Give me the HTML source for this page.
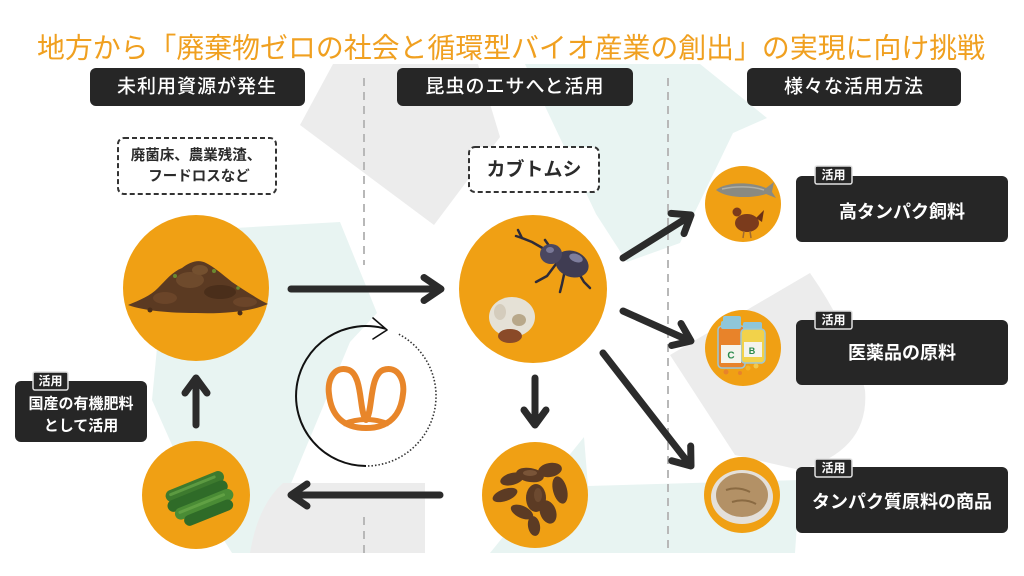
<!DOCTYPE html>
<html><head><meta charset="utf-8"><style>
html,body{margin:0;padding:0;background:#fff;width:1024px;height:576px;overflow:hidden}
svg{display:block}
text{font-family:"Liberation Sans","Noto Sans CJK JP",sans-serif}
</style></head><body>
<svg width="1024" height="576" viewBox="0 0 1024 576" xmlns="http://www.w3.org/2000/svg">
<!-- background recycle shapes -->
<polygon points="300,125 333,64 478,64 500,137 434,225" fill="#ececec"/>
<polygon points="525,64 700,64 767,118 733,133 680,243 627,262 596,214" fill="#e8f4f2"/>
<polygon points="200,230 340,222 377,313 350,342 262,553 232,553 192,490 152,400 165,265" fill="#e8f4f2"/>
<path d="M283,483 L425,483 L425,553 L250,553 Q258,505 283,483Z" fill="#ececec"/>
<polygon points="490,553 584,437 588,486 800,480 795,553" fill="#e8f4f2"/>
<path d="M670,355 L810,273 Q850,330 865,390 Q870,450 800,470 L735,455 Z" fill="#ececec"/>

<!-- dashed dividers -->
<line x1="364" y1="78" x2="364" y2="265" stroke="#b8b8b8" stroke-width="2" stroke-dasharray="8,6"/>
<line x1="364" y1="517" x2="364" y2="553" stroke="#b8b8b8" stroke-width="2" stroke-dasharray="8,6"/>
<line x1="668" y1="78" x2="668" y2="553" stroke="#b8b8b8" stroke-width="2" stroke-dasharray="8,6"/>

<!-- title -->
<text x="511" y="48" text-anchor="middle" dominant-baseline="central" font-size="28" fill="#f0a020" textLength="948" lengthAdjust="spacingAndGlyphs">地方から「廃棄物ゼロの社会と循環型バイオ産業の創出」の実現に向け挑戦</text>

<!-- headers -->
<rect x="90" y="68" width="215" height="38" rx="6" fill="#262626"/>
<text x="197" y="87" text-anchor="middle" dominant-baseline="central" font-size="19" font-weight="500" fill="#fff" letter-spacing="1">未利用資源が発生</text>
<rect x="397" y="68" width="236" height="38" rx="6" fill="#262626"/>
<text x="515" y="87" text-anchor="middle" dominant-baseline="central" font-size="19" font-weight="500" fill="#fff" letter-spacing="1">昆虫のエサへと活用</text>
<rect x="747" y="68" width="214" height="38" rx="6" fill="#262626"/>
<text x="854" y="87" text-anchor="middle" dominant-baseline="central" font-size="19" font-weight="500" fill="#fff" letter-spacing="1">様々な活用方法</text>

<!-- dashed label boxes -->
<rect x="118" y="138" width="158" height="56" rx="6" fill="#fff" stroke="#333" stroke-width="2" stroke-dasharray="5,3"/>
<text x="196" y="156" text-anchor="middle" dominant-baseline="central" font-size="14.5" font-weight="700" fill="#2b2b2b">廃菌床、農業残渣、</text>
<text x="199" y="177" text-anchor="middle" dominant-baseline="central" font-size="14.5" font-weight="700" fill="#2b2b2b">フードロスなど</text>
<rect x="469" y="147" width="130" height="45" rx="6" fill="#fff" stroke="#333" stroke-width="2" stroke-dasharray="5,3"/>
<text x="534" y="170" text-anchor="middle" dominant-baseline="central" font-size="19" font-weight="700" fill="#2b2b2b">カブトムシ</text>

<!-- circle 1: soil -->
<circle cx="196" cy="288" r="73" fill="#f0a014"/>
<path d="M128 305 C140 300 150 296 158 288 C166 280 172 272 182 268 C190 262 198 259 206 263 C214 267 222 274 232 282 C244 290 256 298 268 304 C250 312 220 314 196 313 C170 313 145 311 128 305Z" fill="#5b3a22"/>
<ellipse cx="190" cy="280" rx="14" ry="8" fill="#6e4a2c"/>
<ellipse cx="220" cy="292" rx="16" ry="7" fill="#4a2e1a"/>
<ellipse cx="165" cy="298" rx="12" ry="6" fill="#6b4529"/>
<ellipse cx="245" cy="302" rx="12" ry="5" fill="#6b4529"/>
<ellipse cx="200" cy="270" rx="8" ry="5" fill="#74502f"/>
<circle cx="175" cy="276" r="2" fill="#6a8a30"/><circle cx="214" cy="271" r="2" fill="#6a8a30"/><circle cx="238" cy="288" r="1.8" fill="#6a8a30"/>
<circle cx="150" cy="310" r="2.5" fill="#4a2e1a"/><circle cx="240" cy="313" r="2.5" fill="#4a2e1a"/>

<!-- circle 2: beetle + grub -->
<circle cx="533" cy="289" r="74" fill="#f0a014"/>
<g stroke="#2e2b38" stroke-width="2.5" stroke-linecap="round" fill="none">
<path d="M546 250 L532 242 L522 238 L518 230"/>
<path d="M522 238 L516 236"/>
<path d="M556 264 L547 276 L536 282"/>
<path d="M565 270 L562 284 L560 292"/>
<path d="M578 272 L584 282 L590 288"/>
<path d="M552 250 L545 240"/>
</g>
<ellipse cx="572" cy="264" rx="17" ry="13" fill="#3f3c52" transform="rotate(20 572 264)"/>
<ellipse cx="551" cy="254" rx="11" ry="10" fill="#4a4760"/>
<ellipse cx="576" cy="258" rx="7" ry="4" fill="#8f8fb0" opacity="0.8" transform="rotate(20 576 258)"/>
<ellipse cx="550" cy="250" rx="4" ry="3" fill="#8f8fb0" opacity="0.7"/>
<ellipse cx="512" cy="317" rx="23" ry="20" fill="#e5e1d6"/>
<ellipse cx="519" cy="320" rx="7" ry="6" fill="#b8a88a"/>
<ellipse cx="500" cy="312" rx="6" ry="8" fill="#cfc7b5" opacity="0.8"/>
<ellipse cx="510" cy="336" rx="12" ry="7" fill="#8a4a28"/>

<!-- circle 3: frass -->
<circle cx="535" cy="495" r="53" fill="#f0a014"/>
<g fill="#5c3b24">
<ellipse cx="512" cy="479" rx="12" ry="6" transform="rotate(-15 512 479)"/>
<ellipse cx="505" cy="495" rx="13" ry="6" transform="rotate(-20 505 495)"/>
<ellipse cx="530" cy="475" rx="14" ry="7" transform="rotate(10 530 475)"/>
<ellipse cx="550" cy="470" rx="12" ry="7" transform="rotate(-10 550 470)"/>
<ellipse cx="560" cy="490" rx="7" ry="14" transform="rotate(-15 560 490)"/>
<ellipse cx="536" cy="498" rx="10" ry="14"/>
<ellipse cx="548" cy="512" rx="8" ry="12" transform="rotate(-20 548 512)"/>
<ellipse cx="522" cy="512" rx="12" ry="6" transform="rotate(25 522 512)"/>
<ellipse cx="534" cy="526" rx="6" ry="10" transform="rotate(-10 534 526)"/>
</g>
<ellipse cx="530" cy="473" rx="7" ry="3" fill="#7a5538"/>
<ellipse cx="538" cy="495" rx="4" ry="7" fill="#6d4a30"/>

<!-- circle 4: cucumbers -->
<circle cx="196" cy="495" r="54" fill="#f0a014"/>
<g transform="rotate(-22 198 497)">
<rect x="168" y="480" width="62" height="12" rx="6" fill="#3d7a2e"/>
<rect x="166" y="490" width="64" height="12" rx="6" fill="#2f6b28"/>
<rect x="170" y="500" width="62" height="12" rx="6" fill="#4a8c35"/>
<rect x="176" y="510" width="52" height="11" rx="5.5" fill="#2f6b28"/>
<rect x="172" y="483" width="50" height="3" rx="1.5" fill="#6aa84a" opacity="0.7"/>
<rect x="174" y="503" width="50" height="3" rx="1.5" fill="#6aa84a" opacity="0.7"/>
</g>

<!-- arrows -->
<g stroke="#2b2b2b" stroke-width="7" stroke-linecap="round" stroke-linejoin="round" fill="none">
<line x1="291" y1="289" x2="440" y2="289"/><polyline points="424,277.5 441,289 424,300.5"/>
<line x1="196" y1="425" x2="196" y2="379"/><polyline points="185,393 196,378 207,393"/>
<line x1="535" y1="378" x2="535" y2="424"/><polyline points="524,410 535,425 546,410"/>
<line x1="440" y1="495" x2="292" y2="495"/><polyline points="307,484 291,495 307,506"/>
<line x1="623" y1="258" x2="690" y2="216"/><polyline points="671,213.4 691,215 684,233.6"/>
<line x1="623" y1="311" x2="690" y2="341"/><polyline points="681,323.5 691,341 671.6,345.5"/>
<line x1="603" y1="353" x2="690" y2="465"/><polyline points="690.7,446 691,466 671.7,460.8"/>
</g>

<!-- cycle icon -->
<path d="M366 466 A70 70 0 1 1 385.3 328.7" fill="none" stroke="#111" stroke-width="2"/>
<polyline points="373,318 387,330 373,339" fill="none" stroke="#111" stroke-width="1.6" stroke-linecap="round" stroke-linejoin="round"/>
<path d="M398.9 334.2 A70 70 0 0 1 366 466" fill="none" stroke="#333" stroke-width="1.6" stroke-dasharray="1.5,2"/>
<path d="M366 420 C359 412 363 376 349 370 C334 365 327 380 329 394 C331 414 342 428 366 428 C390 428 401 414 403 394 C405 380 398 365 383 370 C369 376 373 412 366 420Z" fill="none" stroke="#e8862a" stroke-width="6" stroke-linejoin="round"/>
<path d="M343 424 Q366 415 389 424" fill="none" stroke="#e8862a" stroke-width="5"/>

<!-- left label -->
<rect x="15" y="381" width="132" height="61" rx="6" fill="#262626"/>
<text x="81" y="404" text-anchor="middle" dominant-baseline="central" font-size="15" font-weight="700" fill="#fff">国産の有機肥料</text>
<text x="81" y="426" text-anchor="middle" dominant-baseline="central" font-size="15" font-weight="700" fill="#fff">として活用</text>
<rect x="33" y="372" width="35" height="18" rx="2" fill="#262626" stroke="#e0e0e0" stroke-width="1.5"/>
<text x="50.5" y="381" text-anchor="middle" dominant-baseline="central" font-size="12" font-weight="700" fill="#fff">活用</text>

<!-- right circles -->
<circle cx="743" cy="204" r="38" fill="#f0a014"/>
<path d="M716 190 C725 182 750 181 766 188 L774 182 L772 192 L776 198 L766 194 C750 199 726 198 716 190Z" fill="#8a8a82"/>
<path d="M722 189 C735 186 752 186 764 190" stroke="#b0b0a8" stroke-width="1.5" fill="none"/>
<ellipse cx="747" cy="223" rx="12" ry="9" fill="#7b3b1c"/>
<circle cx="737" cy="212" r="4.5" fill="#7b3b1c"/>
<path d="M756 218 L764 210 L762 222Z" fill="#6a3015"/>
<path d="M744 231 L743 238 M750 231 L751 238" stroke="#a06a30" stroke-width="1.5"/>

<circle cx="743" cy="348" r="38" fill="#f0a014"/>
<rect x="723" y="316" width="18" height="8" rx="2" fill="#8fc6d8"/>
<rect x="718" y="326" width="27" height="42" rx="4" fill="#e8832a" stroke="#9cc8d6" stroke-width="1.5"/>
<rect x="721" y="321" width="20" height="8" rx="2" fill="#8fc6d8"/>
<rect x="743" y="322" width="19" height="8" rx="2" fill="#8fc6d8"/>
<rect x="741" y="329" width="24" height="34" rx="4" fill="#f2d24a" stroke="#9cc8d6" stroke-width="1.5"/>
<rect x="721" y="345" width="20" height="18" fill="#f4f4ec"/>
<rect x="744" y="342" width="18" height="15" fill="#f4f4ec"/>
<text x="731" y="356" text-anchor="middle" dominant-baseline="central" font-size="10" font-weight="700" fill="#2a8a4a">C</text>
<text x="752" y="351" text-anchor="middle" dominant-baseline="central" font-size="9" font-weight="700" fill="#2a8a4a">B</text>
<circle cx="748" cy="368" r="2.5" fill="#f2b32a"/><circle cx="756" cy="366" r="2.5" fill="#f2c84a"/><circle cx="726" cy="372" r="2.5" fill="#e8832a"/><circle cx="740" cy="373" r="2" fill="#e8832a"/>

<circle cx="742" cy="495" r="38" fill="#f0a014"/>
<ellipse cx="742" cy="497" rx="31" ry="27" fill="#e4e0da"/>
<ellipse cx="742" cy="495" rx="26" ry="22" fill="#b39166"/>
<path d="M726 490 Q738 486 750 492 M732 502 Q745 498 756 504" stroke="#8a6a42" stroke-width="2" fill="none"/>

<!-- right boxes -->
<rect x="796" y="176" width="212" height="66" rx="6" fill="#262626"/>
<text x="902" y="212" text-anchor="middle" dominant-baseline="central" font-size="18" font-weight="700" fill="#fff">高タンパク飼料</text>
<rect x="815" y="166" width="37" height="18" rx="2" fill="#262626" stroke="#e0e0e0" stroke-width="1.5"/>
<text x="833.5" y="175" text-anchor="middle" dominant-baseline="central" font-size="12" font-weight="700" fill="#fff">活用</text>

<rect x="796" y="320" width="212" height="65" rx="6" fill="#262626"/>
<text x="902" y="353" text-anchor="middle" dominant-baseline="central" font-size="18" font-weight="700" fill="#fff">医薬品の原料</text>
<rect x="815" y="311" width="37" height="18" rx="2" fill="#262626" stroke="#e0e0e0" stroke-width="1.5"/>
<text x="833.5" y="320" text-anchor="middle" dominant-baseline="central" font-size="12" font-weight="700" fill="#fff">活用</text>

<rect x="796" y="467" width="212" height="66" rx="6" fill="#262626"/>
<text x="902" y="502" text-anchor="middle" dominant-baseline="central" font-size="18" font-weight="700" fill="#fff">タンパク質原料の商品</text>
<rect x="815" y="459" width="37" height="18" rx="2" fill="#262626" stroke="#e0e0e0" stroke-width="1.5"/>
<text x="833.5" y="468" text-anchor="middle" dominant-baseline="central" font-size="12" font-weight="700" fill="#fff">活用</text>
</svg>
</body></html>
